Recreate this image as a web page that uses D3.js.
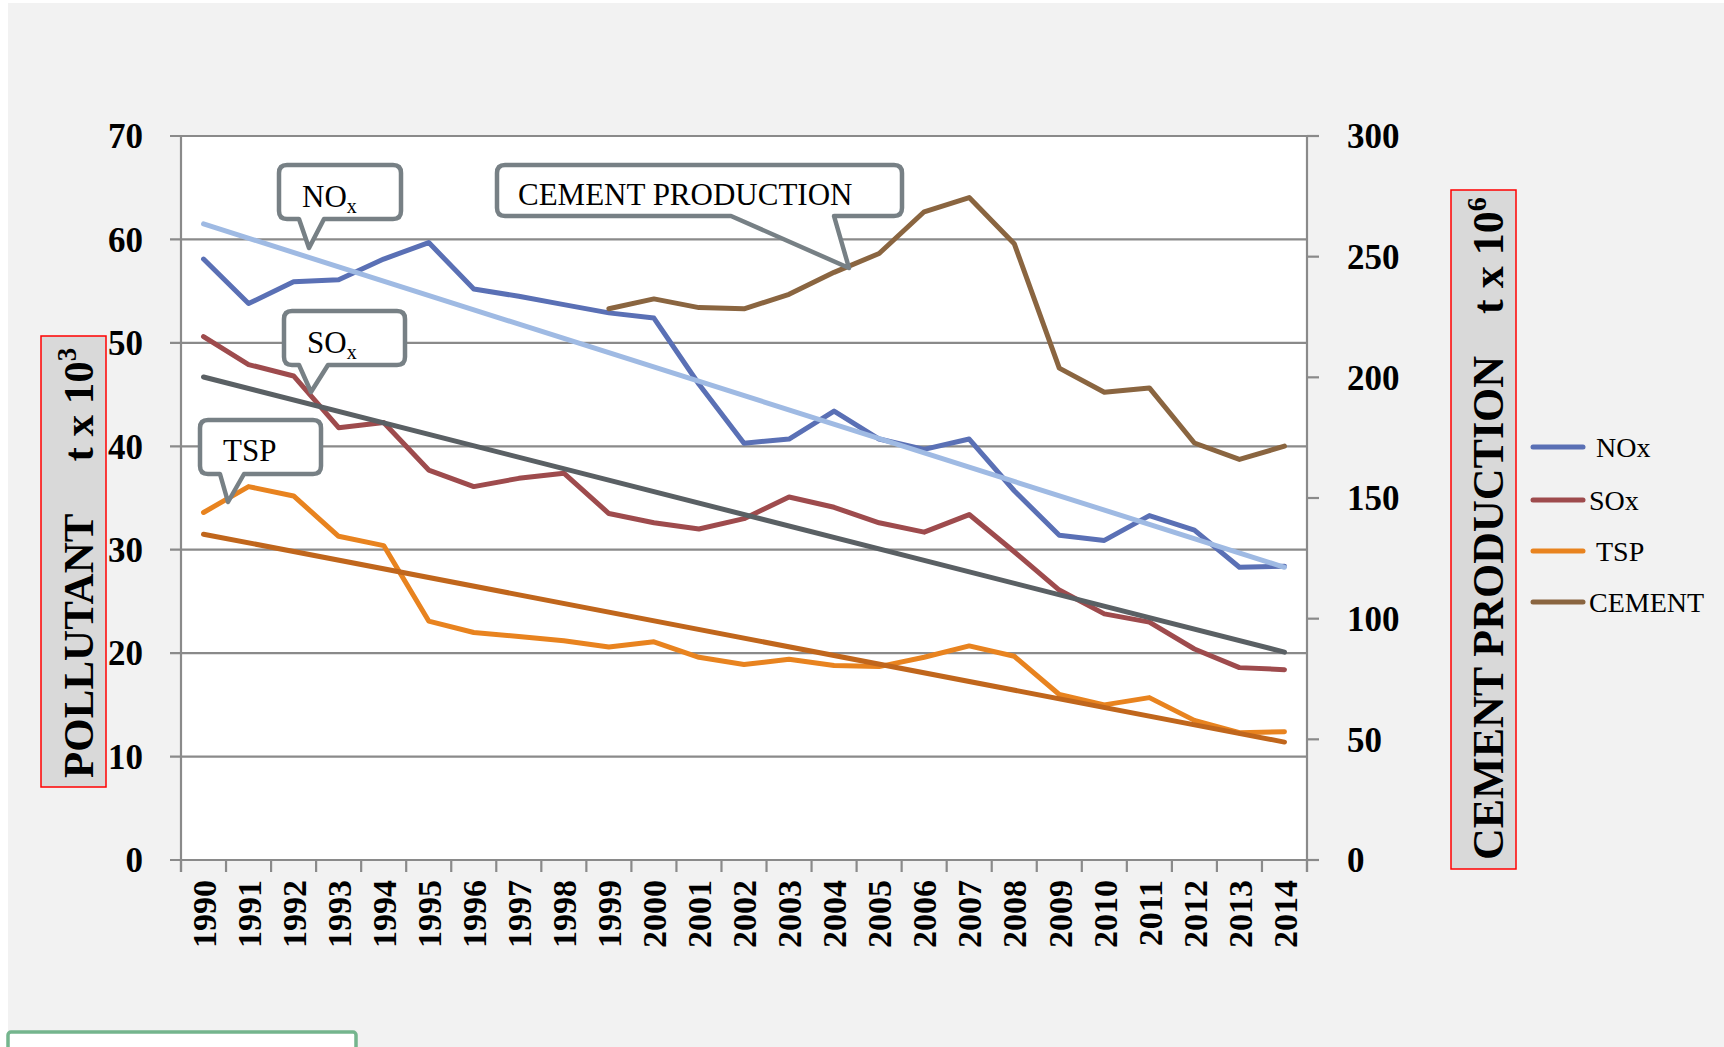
<!DOCTYPE html>
<html>
<head>
<meta charset="utf-8">
<script src="https://cdn.jsdelivr.net/npm/d3@7"></script>
<style>
  body { margin: 0; background: #ffffff; }
  svg { display: block; }
  text { font-family: "Liberation Serif", "DejaVu Serif", serif; }
</style>
</head>
<body>
<svg id="chart"></svg>
<script>
const years = ["1990","1991","1992","1993","1994","1995","1996","1997","1998","1999","2000","2001","2002","2003","2004","2005","2006","2007","2008","2009","2010","2011","2012","2013","2014"];

const noxValues = [58.1,53.8,55.9,56.1,58.1,59.7,55.2,54.5,53.7,52.9,52.4,46.0,40.3,40.7,43.4,40.7,39.7,40.7,35.7,31.4,30.9,33.3,31.9,28.3,28.4];
const soxValues = [50.6,47.9,46.8,41.8,42.3,37.7,36.1,36.9,37.4,33.5,32.6,32.0,33.0,35.1,34.1,32.6,31.7,33.4,29.8,26.1,23.8,23.0,20.4,18.6,18.4];
const tspValues = [33.6,36.1,35.2,31.3,30.4,23.1,22.0,21.6,21.2,20.6,21.1,19.6,18.9,19.4,18.8,18.7,19.6,20.7,19.7,16.0,15.0,15.7,13.5,12.3,12.4];

const cementYears = ["1999","2000","2001","2002","2003","2004","2005","2006","2007","2008","2009","2010","2011","2012","2013","2014"];
const cementValues = [228.4,232.5,228.9,228.4,234.4,243.5,251.3,268.6,274.5,255.4,203.8,193.8,195.6,172.8,166.0,171.5];

// linear trend lines, end values (1990 -> 2014)
const noxTrend = [61.5, 28.3];
const soxTrend = [46.7, 20.1];
const tspTrend = [31.5, 11.4];

const leftTicks = [0,10,20,30,40,50,60,70];
const rightTicks = [0,50,100,150,200,250,300];

const W = 1724, H = 1047;
const plot = {left: 181, right: 1307, top: 136, bottom: 860};

const svg = d3.select("#chart").attr("width", W).attr("height", H);

// background
svg.append("rect").attr("x", 8).attr("y", 3).attr("width", W - 8).attr("height", H - 3).attr("fill", "#f2f2f2");
svg.append("rect").attr("x", plot.left).attr("y", plot.top)
  .attr("width", plot.right - plot.left).attr("height", plot.bottom - plot.top).attr("fill", "#ffffff");

const x = d3.scalePoint().domain(years).range([plot.left, plot.right]).padding(0.5);
const xBand = d3.scaleBand().domain(years).range([plot.left, plot.right]);
const yL = d3.scaleLinear().domain([0, 70]).range([plot.bottom, plot.top]);
const yR = d3.scaleLinear().domain([0, 300]).range([plot.bottom, plot.top]);

const axisColor = "#8a8a8a";

// gridlines + left ticks
svg.append("g").selectAll("line").data(leftTicks).join("line")
  .attr("x1", plot.left - 11).attr("x2", plot.right)
  .attr("y1", d => yL(d)).attr("y2", d => yL(d))
  .attr("stroke", axisColor).attr("stroke-width", 2.2);

// left axis line
svg.append("line").attr("x1", plot.left).attr("x2", plot.left)
  .attr("y1", plot.top).attr("y2", plot.bottom + 12).attr("stroke", axisColor).attr("stroke-width", 2.2);

// right axis
svg.append("line").attr("x1", plot.right).attr("x2", plot.right)
  .attr("y1", plot.top).attr("y2", plot.bottom + 12).attr("stroke", axisColor).attr("stroke-width", 2.2);
svg.append("g").selectAll("line").data(rightTicks).join("line")
  .attr("x1", plot.right).attr("x2", plot.right + 12)
  .attr("y1", d => yR(d)).attr("y2", d => yR(d))
  .attr("stroke", axisColor).attr("stroke-width", 2.2);

// x ticks at band edges
const edges = years.map(d => xBand(d)).concat([plot.right]);
svg.append("g").selectAll("line").data(edges).join("line")
  .attr("x1", d => d).attr("x2", d => d)
  .attr("y1", plot.bottom).attr("y2", plot.bottom + 12)
  .attr("stroke", axisColor).attr("stroke-width", 2.2);

// tick labels
svg.append("g").selectAll("text").data(leftTicks).join("text")
  .attr("x", 143).attr("y", d => yL(d)).attr("dy", "0.35em")
  .attr("text-anchor", "end").attr("font-size", 35).attr("font-weight", "bold")
  .text(d => d);

svg.append("g").selectAll("text").data(rightTicks).join("text")
  .attr("x", 1347).attr("y", d => yR(d)).attr("dy", "0.35em")
  .attr("text-anchor", "start").attr("font-size", 35).attr("font-weight", "bold")
  .text(d => d);

svg.append("g").selectAll("text").data(years).join("text")
  .attr("transform", d => `translate(${x(d)},880) rotate(-90)`)
  .attr("dy", "0.36em")
  .attr("text-anchor", "end").attr("font-size", 34).attr("font-weight", "bold")
  .text(d => d);

// series
const line = d3.line().x(d => x(d[0])).y(d => d[1]);
function drawSeries(xs, vals, scale, color, w) {
  svg.append("path")
    .datum(xs.map((d, i) => [d, scale(vals[i])]))
    .attr("d", line).attr("fill", "none").attr("stroke", color)
    .attr("stroke-width", w).attr("stroke-linejoin", "round").attr("stroke-linecap", "round");
}
const ends = [years[0], years[years.length - 1]];

drawSeries(years, noxValues, yL, "#5a70b5", 5);
drawSeries(years, soxValues, yL, "#9e4b4d", 5);
drawSeries(years, tspValues, yL, "#e8831f", 5);
drawSeries(cementYears, cementValues, yR, "#8a6540", 5);
drawSeries(ends, noxTrend, yL, "#9fbae3", 5);
drawSeries(ends, soxTrend, yL, "#5a6064", 5);
drawSeries(ends, tspTrend, yL, "#c0661c", 5);

// callouts
function callout(bx, by, bw, bh, t1, t2, px, py) {
  const r = 8;
  const bot = by + bh;
  const p = d3.path();
  p.moveTo(bx + r, by);
  p.lineTo(bx + bw - r, by);
  p.quadraticCurveTo(bx + bw, by, bx + bw, by + r);
  p.lineTo(bx + bw, bot - r);
  p.quadraticCurveTo(bx + bw, bot, bx + bw - r, bot);
  p.lineTo(t2, bot);
  p.lineTo(px, py);
  p.lineTo(t1, bot);
  p.lineTo(bx + r, bot);
  p.quadraticCurveTo(bx, bot, bx, bot - r);
  p.lineTo(bx, by + r);
  p.quadraticCurveTo(bx, by, bx + r, by);
  p.closePath();
  svg.append("path").attr("d", p.toString()).attr("fill", "#ffffff")
    .attr("stroke", "#778085").attr("stroke-width", 4.5).attr("stroke-linejoin", "round");
}
function calloutText(tx, ty, main, sub) {
  const t = svg.append("text").attr("x", tx).attr("y", ty).attr("font-size", 31).attr("fill", "#000");
  t.append("tspan").text(main);
  if (sub) t.append("tspan").attr("font-size", 20).attr("dy", 6).text(sub);
}

callout(279, 165, 122, 54, 299, 324, 309, 248);
calloutText(302, 207, "NO", "x");
callout(497, 165, 405, 51, 731, 834, 849, 268);
calloutText(518, 205, "CEMENT PRODUCTION");
callout(284, 311, 121, 54, 299, 328, 311, 392);
calloutText(307, 353, "SO", "x");
callout(200, 420, 121, 54, 220, 244, 228, 502);
calloutText(223, 461, "TSP");

// axis titles
svg.append("rect").attr("x", 41).attr("y", 336).attr("width", 65).attr("height", 451)
  .attr("fill", "#d9d9d9").attr("stroke", "#ff0000").attr("stroke-width", 1.5);
const lt = svg.append("text").attr("transform", "translate(93,778) rotate(-90)")
  .attr("font-size", 43).attr("font-weight", "bold");
lt.append("tspan").text("POLLUTANT");
lt.append("tspan").attr("dx", 52).text("t x 10");
lt.append("tspan").attr("font-size", 27).attr("dy", -17).text("3");

svg.append("rect").attr("x", 1451).attr("y", 190).attr("width", 65).attr("height", 679)
  .attr("fill", "#d9d9d9").attr("stroke", "#ff0000").attr("stroke-width", 1.5);
const rt = svg.append("text").attr("transform", "translate(1503,860) rotate(-90)")
  .attr("font-size", 44).attr("font-weight", "bold");
rt.append("tspan").text("CEMENT PRODUCTION");
rt.append("tspan").attr("dx", 42).text("t x 10");
rt.append("tspan").attr("font-size", 28).attr("dy", -17).text("6");

// legend
const legendNames = ["NOx", "SOx", "TSP", "CEMENT"];
const legendColors = ["#5a70b5", "#9e4b4d", "#e8831f", "#8a6540"];
const legendY = [447, 500, 551, 602];
const legendTextX = [1596, 1589, 1596, 1589];
const lg = svg.append("g").selectAll("g").data(legendNames).join("g");
lg.append("line").attr("x1", 1533).attr("x2", 1583)
  .attr("y1", (d, i) => legendY[i]).attr("y2", (d, i) => legendY[i])
  .attr("stroke", (d, i) => legendColors[i]).attr("stroke-width", 5).attr("stroke-linecap", "round");
lg.append("text").attr("x", (d, i) => legendTextX[i]).attr("y", (d, i) => legendY[i])
  .attr("dy", "0.35em").attr("font-size", 28).text(d => d);

// cut-off text box at the bottom
svg.append("rect").attr("x", 8).attr("y", 1032).attr("width", 348).attr("height", 30).attr("rx", 3)
  .attr("fill", "#ffffff").attr("stroke", "#74b58d").attr("stroke-width", 3.5);
</script>
</body>
</html>
